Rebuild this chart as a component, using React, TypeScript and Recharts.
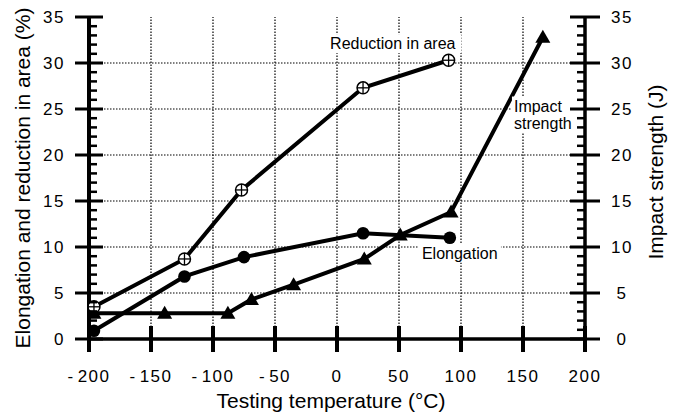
import React from 'react';
import { ComposedChart, Line, XAxis, YAxis, ReferenceLine, ReferenceDot } from 'recharts';

const xTicks = [-200, -150, -100, -50, 0, 50, 100, 150, 200];
const xGrid = [-150, -100, -50, 0, 50, 100, 150];
const yMajorTicks = [0, 5, 10, 15, 20, 25, 30, 35];
const yGrid = [5, 10, 15, 20, 25, 30];
const yAllTicks = Array.from({ length: 36 }, (_, i) => i);

const reductionTemp = [-196, -123, -77, 21, 90];
const reductionArea = [3.5, 8.7, 16.2, 27.3, 30.3];
const elongTemp = [-196, -123, -75, 21, 91];
const elongation = [0.9, 6.8, 8.9, 11.5, 11.0];
const impactTemp = [-196, -139, -88, -69, -35, 22, 51, 92, 166];
const impactStrength = [2.8, 2.8, 2.8, 4.3, 5.9, 8.7, 11.3, 13.8, 32.8];

const seriesLabels = [
  { lines: ['Reduction in area'], x: 45, y: 32.1, anchor: 'middle' },
  { lines: ['Impact', 'strength'], x: 142.7, y: 24.4, anchor: 'start' },
  { lines: ['Elongation'], x: 99, y: 9.35, anchor: 'middle' },
];

const toPoints = (xs: number[], ys: number[]) => xs.map((x, i) => ({ x, y: ys[i] }));
const reductionData = toPoints(reductionTemp, reductionArea);
const elongData = toPoints(elongTemp, elongation);
const impactData = toPoints(impactTemp, impactStrength);

const FONT = '"Liberation Sans", Arial, Helvetica, sans-serif';
const BLACK = '#000';

const isMajor = (v: number) => yMajorTicks.includes(v);

const LeftTick = (props: any) => {
  const { x, y, payload } = props;
  const v = payload.value;
  const major = isMajor(v);
  return (
    <g>
      {major ? (
        <line x1={x - 14} x2={x + 14} y1={y} y2={y} stroke={BLACK} strokeWidth={3} />
      ) : (
        <line x1={x} x2={x + 8} y1={y} y2={y} stroke={BLACK} strokeWidth={2.5} />
      )}
      {major && (
        <text x={x - 24} y={y} dy="0.36em" textAnchor="end" fontFamily={FONT} fontSize={17} letterSpacing={1.5} fill={BLACK}>
          {v}
        </text>
      )}
    </g>
  );
};

const RightTick = (props: any) => {
  const { x, y, payload } = props;
  const v = payload.value;
  const major = isMajor(v);
  return (
    <g>
      {major ? (
        <line x1={x - 15} x2={x + 15} y1={y} y2={y} stroke={BLACK} strokeWidth={3} />
      ) : (
        <line x1={x - 8} x2={x} y1={y} y2={y} stroke={BLACK} strokeWidth={2.5} />
      )}
      {major && (
        <text x={x + 37} y={y} dy="0.36em" textAnchor="middle" fontFamily={FONT} fontSize={17} letterSpacing={1.5} fill={BLACK}>
          {v}
        </text>
      )}
    </g>
  );
};

const BottomTick = (props: any) => {
  const { x, y, payload } = props;
  const v = payload.value;
  return (
    <g>
      <line x1={x} x2={x} y1={y - 13} y2={y + 13} stroke={BLACK} strokeWidth={4} />
      <text x={x} y={y + 37} dy="0.36em" textAnchor="middle" fontFamily={FONT} fontSize={17} letterSpacing={1.5} fill={BLACK}>
        {v < 0 ? (
          <>
            <tspan>-</tspan>
            <tspan dx={3}>{Math.abs(v)}</tspan>
          </>
        ) : (
          v
        )}
      </text>
    </g>
  );
};

const TopTick = (props: any) => {
  const { x, y } = props;
  return <line x1={x} x2={x} y1={y - 12} y2={y + 13} stroke={BLACK} strokeWidth={4} />;
};

const ReductionDot = (props: any) => {
  const { cx, cy, index } = props;
  if (cx == null || cy == null) return <g key={`r${index}`} />;
  const r = 6;
  return (
    <g key={`r${index}`}>
      <circle cx={cx} cy={cy} r={r} fill="#fff" stroke={BLACK} strokeWidth={1.5} />
      <line x1={cx - r} x2={cx + r} y1={cy} y2={cy} stroke={BLACK} strokeWidth={1.3} />
      <line x1={cx} x2={cx} y1={cy - r} y2={cy + r} stroke={BLACK} strokeWidth={1.3} />
    </g>
  );
};

const ElongDot = (props: any) => {
  const { cx, cy, index } = props;
  if (cx == null || cy == null) return <g key={`e${index}`} />;
  return <circle key={`e${index}`} cx={cx} cy={cy} r={6.3} fill={BLACK} />;
};

const TriDot = (props: any) => {
  const { cx, cy, index } = props;
  if (cx == null || cy == null) return <g key={`t${index}`} />;
  return (
    <polygon
      key={`t${index}`}
      points={`${cx},${cy - 7.5} ${cx + 7.5},${cy + 5.5} ${cx - 7.5},${cy + 5.5}`}
      fill={BLACK}
    />
  );
};

const makeLabelShape = (lines: string[], anchor: string) => (props: any) => {
  const { cx, cy } = props;
  if (cx == null || cy == null) return <g />;
  const fs = 16;
  const lh = 17;
  const widths = lines.map((l) => l.length * fs * 0.49);
  const w = Math.max(...widths) + 4;
  const h = lines.length * lh + 2;
  const left = anchor === 'start' ? cx - 2 : cx - w / 2;
  const top = cy - h / 2;
  return (
    <g>
      <rect x={left} y={top} width={w} height={h} fill="#fff" />
      {lines.map((l, i) => (
        <text
          key={i}
          x={cx}
          y={cy + (i - (lines.length - 1) / 2) * lh}
          dy="0.36em"
          textAnchor={anchor}
          fontFamily={FONT}
          fontSize={fs}
          fill={BLACK}
        >
          {l}
        </text>
      ))}
    </g>
  );
};

const TITLE_FS = 21;

const LeftTitle = (props: any) => {
  const vb = props.viewBox || { x: 0, y: 17, width: 89, height: 322 };
  const cx = vb.x + 22;
  const cy = vb.y + vb.height / 2;
  return (
    <text transform={`translate(${cx},${cy}) rotate(-90)`} textAnchor="middle" dy="0.36em" fontFamily={FONT} fontSize={TITLE_FS} fill={BLACK}>
      Elongation and reduction in area (%)
    </text>
  );
};

const RightTitle = (props: any) => {
  const vb = props.viewBox || { x: 585, y: 17, width: 91, height: 322 };
  const cx = vb.x + 70;
  const cy = vb.y + vb.height / 2 - 6;
  return (
    <text transform={`translate(${cx},${cy}) rotate(-90)`} textAnchor="middle" dy="0.36em" fontFamily={FONT} fontSize={TITLE_FS} fill={BLACK}>
      Impact strength (J)
    </text>
  );
};

const BottomTitle = (props: any) => {
  const vb = props.viewBox || { x: 89, y: 339, width: 496, height: 76 };
  const cx = vb.x + vb.width / 2 - 6;
  const cy = vb.y + 61;
  return (
    <text x={cx} y={cy} dy="0.36em" textAnchor="middle" fontFamily={FONT} fontSize={TITLE_FS} fill={BLACK}>
      Testing temperature (°C)
    </text>
  );
};

export default function App() {
  return (
    <div style={{ position: 'absolute', left: 0, top: 0, width: 676, height: 415, background: '#fff' }}>
      <ComposedChart width={676} height={415} margin={{ top: 17, right: 0, bottom: 0, left: 0 }}>
        <XAxis
          type="number"
          dataKey="x"
          domain={[-200, 200]}
          ticks={xTicks}
          interval={0}
          allowDataOverflow
          height={76}
          tickSize={0}
          tickMargin={0}
          tickLine={false}
          axisLine={{ stroke: BLACK, strokeWidth: 3.5 }}
          tick={<BottomTick />}
          label={{ content: <BottomTitle /> }}
        />
        <XAxis
          xAxisId="top"
          orientation="top"
          type="number"
          dataKey="x"
          domain={[-200, 200]}
          ticks={xTicks}
          interval={0}
          allowDataOverflow
          height={0}
          tickSize={0}
          tickMargin={0}
          tickLine={false}
          axisLine={{ stroke: BLACK, strokeWidth: 3 }}
          tick={<TopTick />}
        />
        <YAxis
          yAxisId="left"
          type="number"
          domain={[0, 35]}
          ticks={yAllTicks}
          interval={0}
          allowDataOverflow
          width={89}
          tickSize={0}
          tickMargin={0}
          tickLine={false}
          axisLine={{ stroke: BLACK, strokeWidth: 4 }}
          tick={<LeftTick />}
          label={{ content: <LeftTitle /> }}
        />
        <YAxis
          yAxisId="right"
          orientation="right"
          type="number"
          domain={[0, 35]}
          ticks={yAllTicks}
          interval={0}
          allowDataOverflow
          width={91}
          tickSize={0}
          tickMargin={0}
          tickLine={false}
          axisLine={{ stroke: BLACK, strokeWidth: 3.5 }}
          tick={<RightTick />}
          label={{ content: <RightTitle /> }}
        />
        {yGrid.map((v) => (
          <ReferenceLine key={`hy${v}`} yAxisId="left" y={v} stroke={BLACK} strokeWidth={1.2} strokeDasharray="1.5 1.5" />
        ))}
        {xGrid.map((v) => (
          <ReferenceLine key={`vx${v}`} yAxisId="left" x={v} stroke={BLACK} strokeWidth={1.2} strokeDasharray="1.5 1.5" />
        ))}
        {seriesLabels.map((l, i) => (
          <ReferenceDot
            key={`lab${i}`}
            yAxisId="left"
            x={l.x}
            y={l.y}
            r={0}
            shape={makeLabelShape(l.lines, l.anchor)}
          />
        ))}
        <Line
          yAxisId="right"
          data={impactData}
          dataKey="y"
          type="linear"
          stroke={BLACK}
          strokeWidth={4}
          dot={TriDot}
          activeDot={false}
          isAnimationActive={false}
        />
        <Line
          yAxisId="left"
          data={elongData}
          dataKey="y"
          type="linear"
          stroke={BLACK}
          strokeWidth={4}
          dot={ElongDot}
          activeDot={false}
          isAnimationActive={false}
        />
        <Line
          yAxisId="left"
          data={reductionData}
          dataKey="y"
          type="linear"
          stroke={BLACK}
          strokeWidth={4}
          dot={ReductionDot}
          activeDot={false}
          isAnimationActive={false}
        />
      </ComposedChart>
    </div>
  );
}
